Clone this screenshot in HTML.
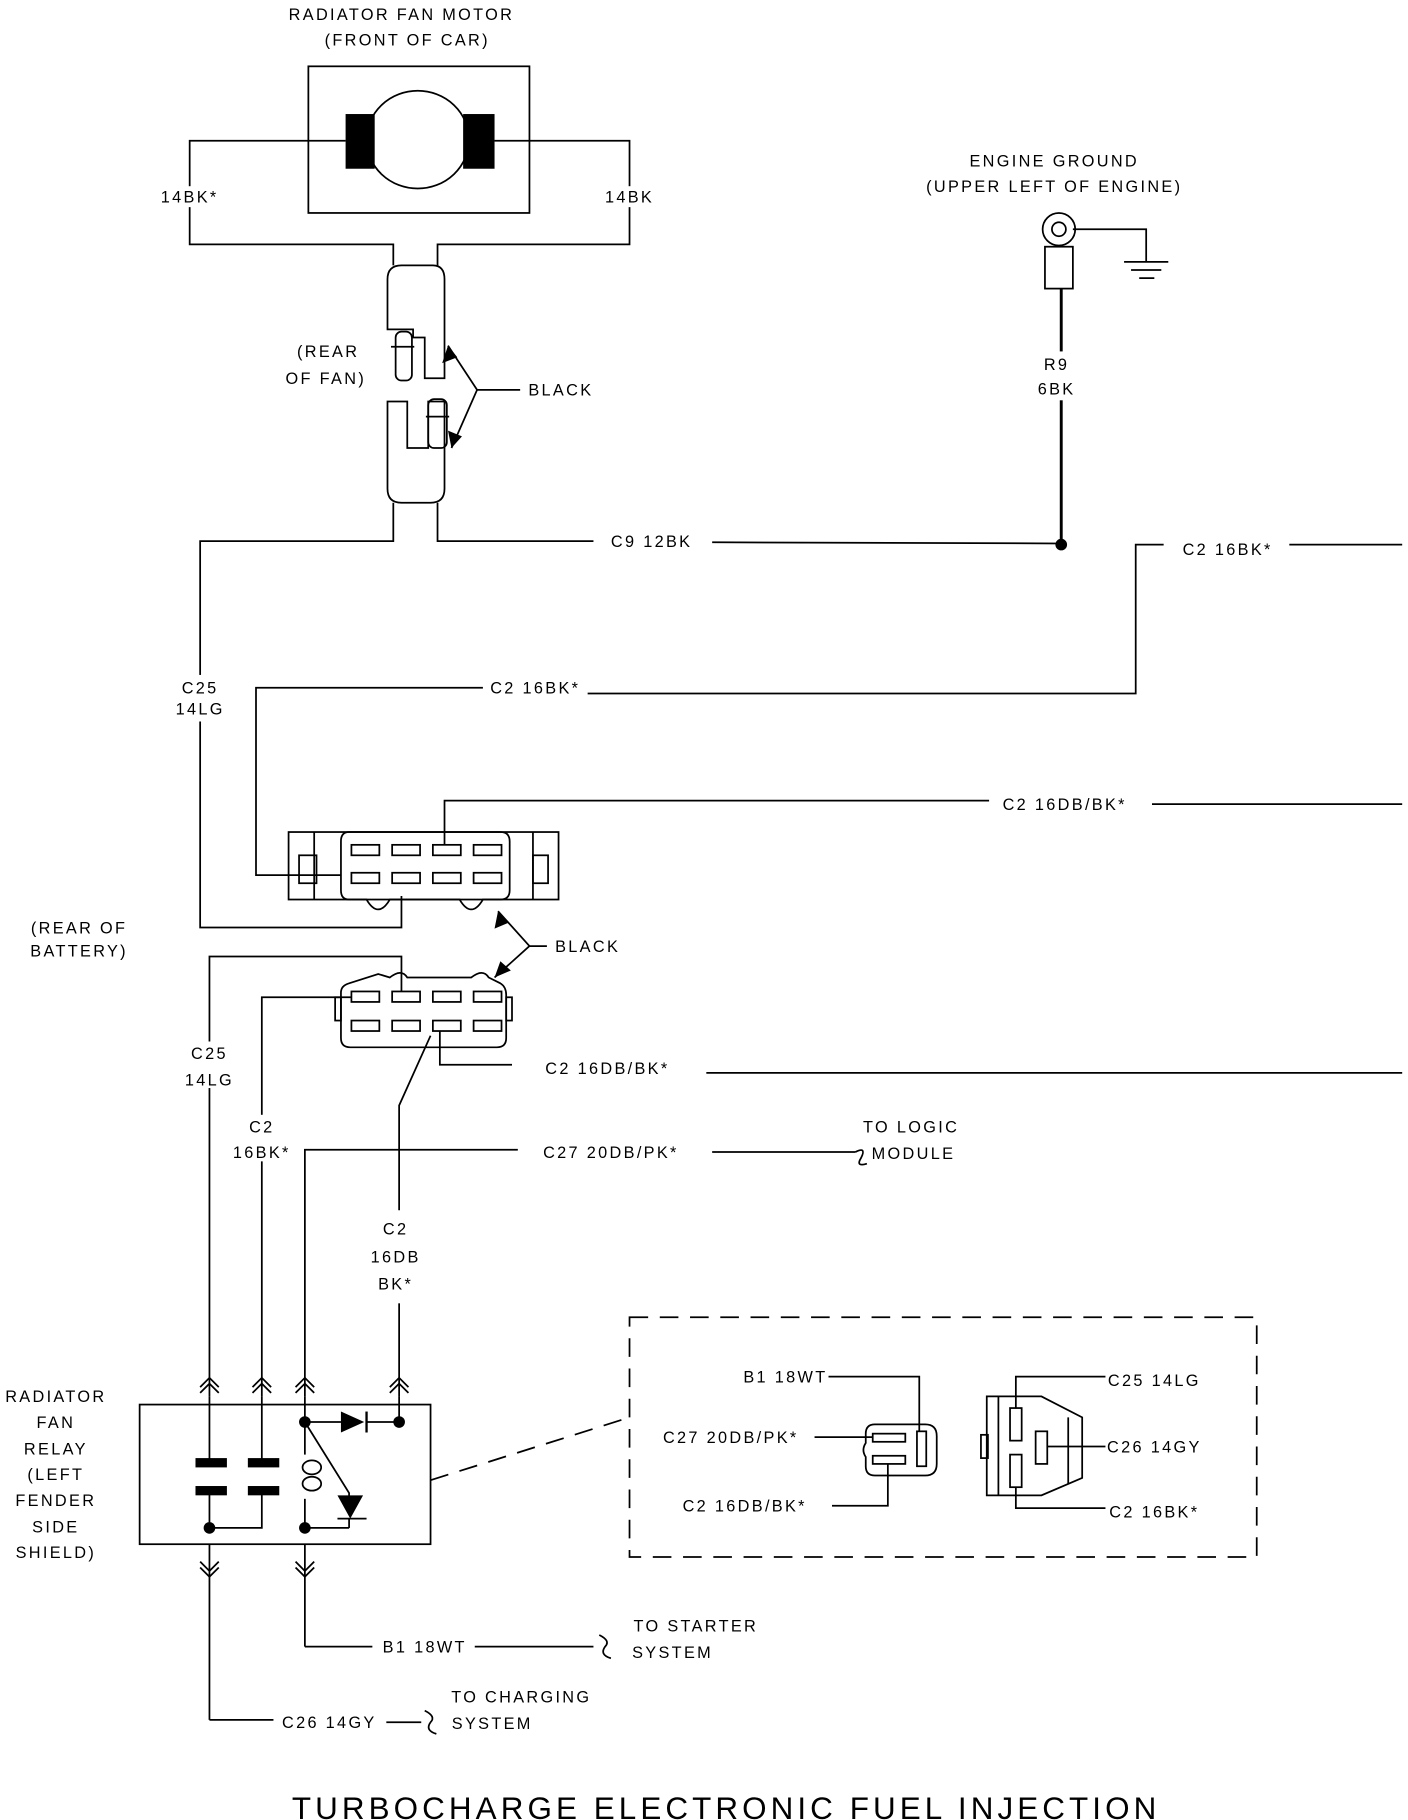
<!DOCTYPE html>
<html><head><meta charset="utf-8"><style>
html,body{margin:0;padding:0;background:#fff;}
svg{display:block;}
text{font-family:"Liberation Sans",sans-serif;font-size:14px;letter-spacing:2px;fill:#000;text-anchor:middle;}
</style></head><body>
<svg width="1408" height="1820" viewBox="0 0 1210 1564" preserveAspectRatio="none" xmlns="http://www.w3.org/2000/svg">
<g fill="none" stroke="#000" stroke-width="1.5">
<rect x="265" y="57" width="190" height="126"/>
<ellipse cx="359" cy="120" rx="44" ry="42"/>
<polyline points="297,121 163,121 163,210 338,210 338,228"/>
<polyline points="425,121 541,121 541,210 376,210 376,228"/>
<path d="M333,240 Q333,228 345,228 L372,228 Q382,228 382,240 L382,325 L365,325 L365,290 L355,290 L355,283 L333,283 Z"/>
<rect x="340" y="285" width="14" height="42" rx="5"/>
<line x1="336" y1="298" x2="356" y2="298"/>
<path d="M333,345 L350,345 L350,385 L368,385 L368,345 L382,345 L382,420 Q382,432 370,432 L345,432 Q333,432 333,420 Z"/>
<rect x="368" y="343" width="16" height="42" rx="5"/>
<line x1="366" y1="358" x2="386" y2="358"/>
<polyline points="385,297 410,335 388,385"/>
<line x1="410" y1="335" x2="447" y2="335"/>
<polyline points="338,432 338,465 172,465 172,797 345,797 345,770"/>
<polyline points="376,432 376,465 510,465"/>
<line x1="612" y1="466" x2="912" y2="467"/>
<line x1="912" y1="248" x2="912" y2="468" stroke-width="2.5"/>
<circle cx="910" cy="197" r="14"/><circle cx="910" cy="197" r="6"/>
<rect x="898" y="212" width="24" height="36"/>
<polyline points="922,197 985,197 985,225"/>
<line x1="966" y1="225" x2="1004" y2="225"/><line x1="972" y1="232" x2="998" y2="232"/><line x1="979" y1="239" x2="992" y2="239"/>
<polyline points="1000,468 976,468 976,596 505,596"/>
<line x1="1108" y1="468" x2="1205" y2="468"/>
<polyline points="415,591 220,591 220,752 293,752"/>
<rect x="248" y="715" width="232" height="58"/>
<line x1="270" y1="715" x2="270" y2="773"/><line x1="458" y1="715" x2="458" y2="773"/>
<rect x="257" y="735" width="15" height="24"/><rect x="458" y="735" width="13" height="24"/>
<path d="M300,715 L430,715 Q438,715 438,723 L438,765 Q438,773 430,773 L415,773 Q405,790 395,773 L335,773 Q325,790 315,773 L300,773 Q293,773 293,765 L293,723 Q293,715 300,715 Z"/>
<rect x="302" y="726" width="24" height="9"/><rect x="337" y="726" width="24" height="9"/><rect x="372" y="726" width="24" height="9"/><rect x="407" y="726" width="24" height="9"/>
<rect x="302" y="750" width="24" height="9"/><rect x="337" y="750" width="24" height="9"/><rect x="372" y="750" width="24" height="9"/><rect x="407" y="750" width="24" height="9"/>
<polyline points="382,726 382,688 850,688"/>
<line x1="990" y1="691" x2="1205" y2="691"/>
<polyline points="428,783 455,813 425,840"/>
<line x1="455" y1="813" x2="470" y2="813"/>
<path d="M300,845 L325,837 L335,840 Q345,832 350,840 L405,840 Q415,832 420,840 L430,845 Q435,848 435,855 L435,892 Q435,900 427,900 L301,900 Q293,900 293,892 L293,853 Q293,847 300,845 Z"/>
<rect x="288" y="857" width="5" height="20"/><rect x="435" y="857" width="5" height="20"/>
<rect x="302" y="852" width="24" height="9"/><rect x="337" y="852" width="24" height="9"/><rect x="372" y="852" width="24" height="9"/><rect x="407" y="852" width="24" height="9"/>
<rect x="302" y="877" width="24" height="9"/><rect x="337" y="877" width="24" height="9"/><rect x="372" y="877" width="24" height="9"/><rect x="407" y="877" width="24" height="9"/>
<polyline points="180,1200 180,822 345,822 345,852"/>
<polyline points="225,1200 225,857 302,857"/>
<polyline points="378,886 378,915 440,915"/>
<line x1="607" y1="922" x2="1205" y2="922"/>
<polyline points="370,890 343,950 343,1040"/>
<line x1="343" y1="1120" x2="343" y2="1200"/>
<polyline points="262,1200 262,988 445,988"/>
<line x1="612" y1="990" x2="735" y2="990"/>
<path d="M735,990 Q745,985 740,995 Q735,1003 745,1000"/>
<rect x="120" y="1207" width="250" height="120"/>
<line x1="180" y1="1200" x2="180" y2="1257"/><line x1="225" y1="1200" x2="225" y2="1257"/>
<line x1="180" y1="1280" x2="180" y2="1313"/><polyline points="180,1313 225,1313 225,1280"/>
<line x1="262" y1="1200" x2="262" y2="1250"/><line x1="262" y1="1288" x2="262" y2="1313"/>
<ellipse cx="268" cy="1261" rx="8" ry="6"/><ellipse cx="268" cy="1275" rx="8" ry="6"/>
<line x1="262" y1="1222" x2="293" y2="1222"/><line x1="315" y1="1222" x2="343" y2="1222"/>
<line x1="343" y1="1200" x2="343" y2="1222"/>
<polyline points="262,1222 300,1283 300,1300"/>
<line x1="262" y1="1313" x2="300" y2="1313"/><line x1="300" y1="1305" x2="300" y2="1313"/>
<line x1="290" y1="1305" x2="315" y2="1305"/>
<path d="M172,1192 L180,1184 L188,1192 M172,1197 L180,1189 L188,1197"/>
<path d="M217,1192 L225,1184 L233,1192 M217,1197 L225,1189 L233,1197"/>
<path d="M254,1192 L262,1184 L270,1192 M254,1197 L262,1189 L270,1197"/>
<path d="M335,1192 L343,1184 L351,1192 M335,1197 L343,1189 L351,1197"/>
<line x1="180" y1="1327" x2="180" y2="1478"/><line x1="262" y1="1327" x2="262" y2="1415"/>
<path d="M172,1342 L180,1350 L188,1342 M172,1347 L180,1355 L188,1347"/>
<path d="M254,1342 L262,1350 L270,1342 M254,1347 L262,1355 L270,1347"/>
<polyline points="262,1415 320,1415"/><line x1="408" y1="1415" x2="510" y2="1415"/>
<path d="M515,1405 Q525,1410 520,1415 Q515,1422 525,1425"/>
<polyline points="180,1478 235,1478"/><line x1="332" y1="1480" x2="362" y2="1480"/>
<path d="M365,1470 Q375,1475 370,1480 Q365,1487 375,1490"/>
<rect x="541" y="1132" width="539" height="206" stroke-dasharray="16,10"/>
<line x1="370" y1="1272" x2="541" y2="1218" stroke-dasharray="16,10"/>
<path d="M752,1224 L795,1224 Q805,1224 805,1234 L805,1258 Q805,1268 795,1268 L752,1268 Q744,1268 744,1260 L744,1252 Q740,1246 744,1240 L744,1232 Q744,1224 752,1224 Z"/>
<rect x="750" y="1232" width="28" height="7"/><rect x="750" y="1251" width="28" height="7"/>
<rect x="788" y="1230" width="8" height="30"/>
<polyline points="712,1183 790,1183 790,1230"/>
<line x1="700" y1="1235" x2="750" y2="1235"/>
<polyline points="715,1294 763,1294 763,1258"/>
<path d="M848,1200 L895,1200 L930,1218 L930,1270 L895,1285 L848,1285 Z"/>
<line x1="858" y1="1200" x2="858" y2="1285"/>
<rect x="843" y="1233" width="6" height="20"/>
<rect x="868" y="1210" width="10" height="28"/><rect x="868" y="1250" width="10" height="28"/>
<rect x="890" y="1230" width="10" height="28"/>
<line x1="918" y1="1218" x2="918" y2="1275"/>
<polyline points="873,1210 873,1183 950,1183"/>
<line x1="900" y1="1243" x2="950" y2="1243"/>
<polyline points="873,1278 873,1296 950,1296"/>
</g>
<g fill="#000">
<rect x="297" y="98" width="25" height="47"/><rect x="398" y="98" width="27" height="47"/>
<circle cx="912" cy="468" r="5"/>
<polygon points="385,297 380,312 393,307"/><polygon points="388,385 385,370 397,375"/>
<polygon points="428,783 425,798 437,793"/><polygon points="425,840 430,826 439,834"/>
<rect x="168" y="1253" width="27" height="8"/><rect x="168" y="1277" width="27" height="8"/>
<rect x="213" y="1253" width="27" height="8"/><rect x="213" y="1277" width="27" height="8"/>
<circle cx="262" cy="1222" r="5"/><circle cx="343" cy="1222" r="5"/><circle cx="180" cy="1313" r="5"/><circle cx="262" cy="1313" r="5"/>
<polygon points="293,1213 293,1231 313,1222"/><rect x="314" y="1213" width="2" height="18"/>
<polygon points="290,1285 312,1285 301,1305"/>
</g>
<g>
<text x="345" y="17">RADIATOR FAN MOTOR</text>
<text x="350" y="39">(FRONT OF CAR)</text>
<rect x="135" y="160" width="56" height="18" fill="#fff"/><text x="163" y="174">14BK*</text>
<rect x="515" y="160" width="52" height="18" fill="#fff"/><text x="541" y="174">14BK</text>
<text x="282" y="307">(REAR</text><text x="280" y="330">OF FAN)</text>
<text x="482" y="340">BLACK</text>
<text x="906" y="143">ENGINE GROUND</text>
<text x="906" y="165">(UPPER LEFT OF ENGINE)</text>
<rect x="890" y="302" width="40" height="42" fill="#fff"/>
<text x="908" y="318">R9</text><text x="908" y="339">6BK</text>
<text x="560" y="470">C9  12BK</text>
<text x="1055" y="477">C2 16BK*</text>
<rect x="150" y="580" width="45" height="40" fill="#fff"/>
<text x="172" y="596">C25</text><text x="172" y="614">14LG</text>
<text x="460" y="596">C2 16BK*</text>
<text x="915" y="696">C2 16DB/BK*</text>
<text x="68" y="802">(REAR OF</text><text x="68" y="822">BATTERY)</text>
<text x="505" y="818">BLACK</text>
<rect x="158" y="895" width="45" height="40" fill="#fff"/>
<text x="180" y="910">C25</text><text x="180" y="933">14LG</text>
<text x="522" y="923">C2 16DB/BK*</text>
<rect x="198" y="958" width="55" height="40" fill="#fff"/>
<text x="225" y="973">C2</text><text x="225" y="995">16BK*</text>
<text x="525" y="995">C27 20DB/PK*</text>
<text x="783" y="973">TO LOGIC</text><text x="785" y="996">MODULE</text>
<text x="340" y="1061">C2</text><text x="340" y="1085">16DB</text><text x="340" y="1108">BK*</text>
<text x="48" y="1205">RADIATOR</text><text x="48" y="1227">FAN</text><text x="48" y="1250">RELAY</text><text x="48" y="1272">(LEFT</text><text x="48" y="1294">FENDER</text><text x="48" y="1317">SIDE</text><text x="48" y="1339">SHIELD)</text>
<text x="365" y="1420">B1 18WT</text>
<text x="598" y="1402">TO STARTER</text><text x="578" y="1425">SYSTEM</text>
<text x="283" y="1485">C26 14GY</text>
<text x="448" y="1463">TO CHARGING</text><text x="423" y="1486">SYSTEM</text>
<text x="675" y="1188">B1 18WT</text>
<text x="628" y="1240">C27 20DB/PK*</text>
<text x="640" y="1299">C2 16DB/BK*</text>
<text x="992" y="1191">C25 14LG</text>
<text x="992" y="1248">C26 14GY</text>
<text x="992" y="1304">C2 16BK*</text>
<text x="624" y="1563" style="font-size:27px;letter-spacing:3.5px">TURBOCHARGE ELECTRONIC FUEL INJECTION</text>
</g>
</svg>
</body></html>
